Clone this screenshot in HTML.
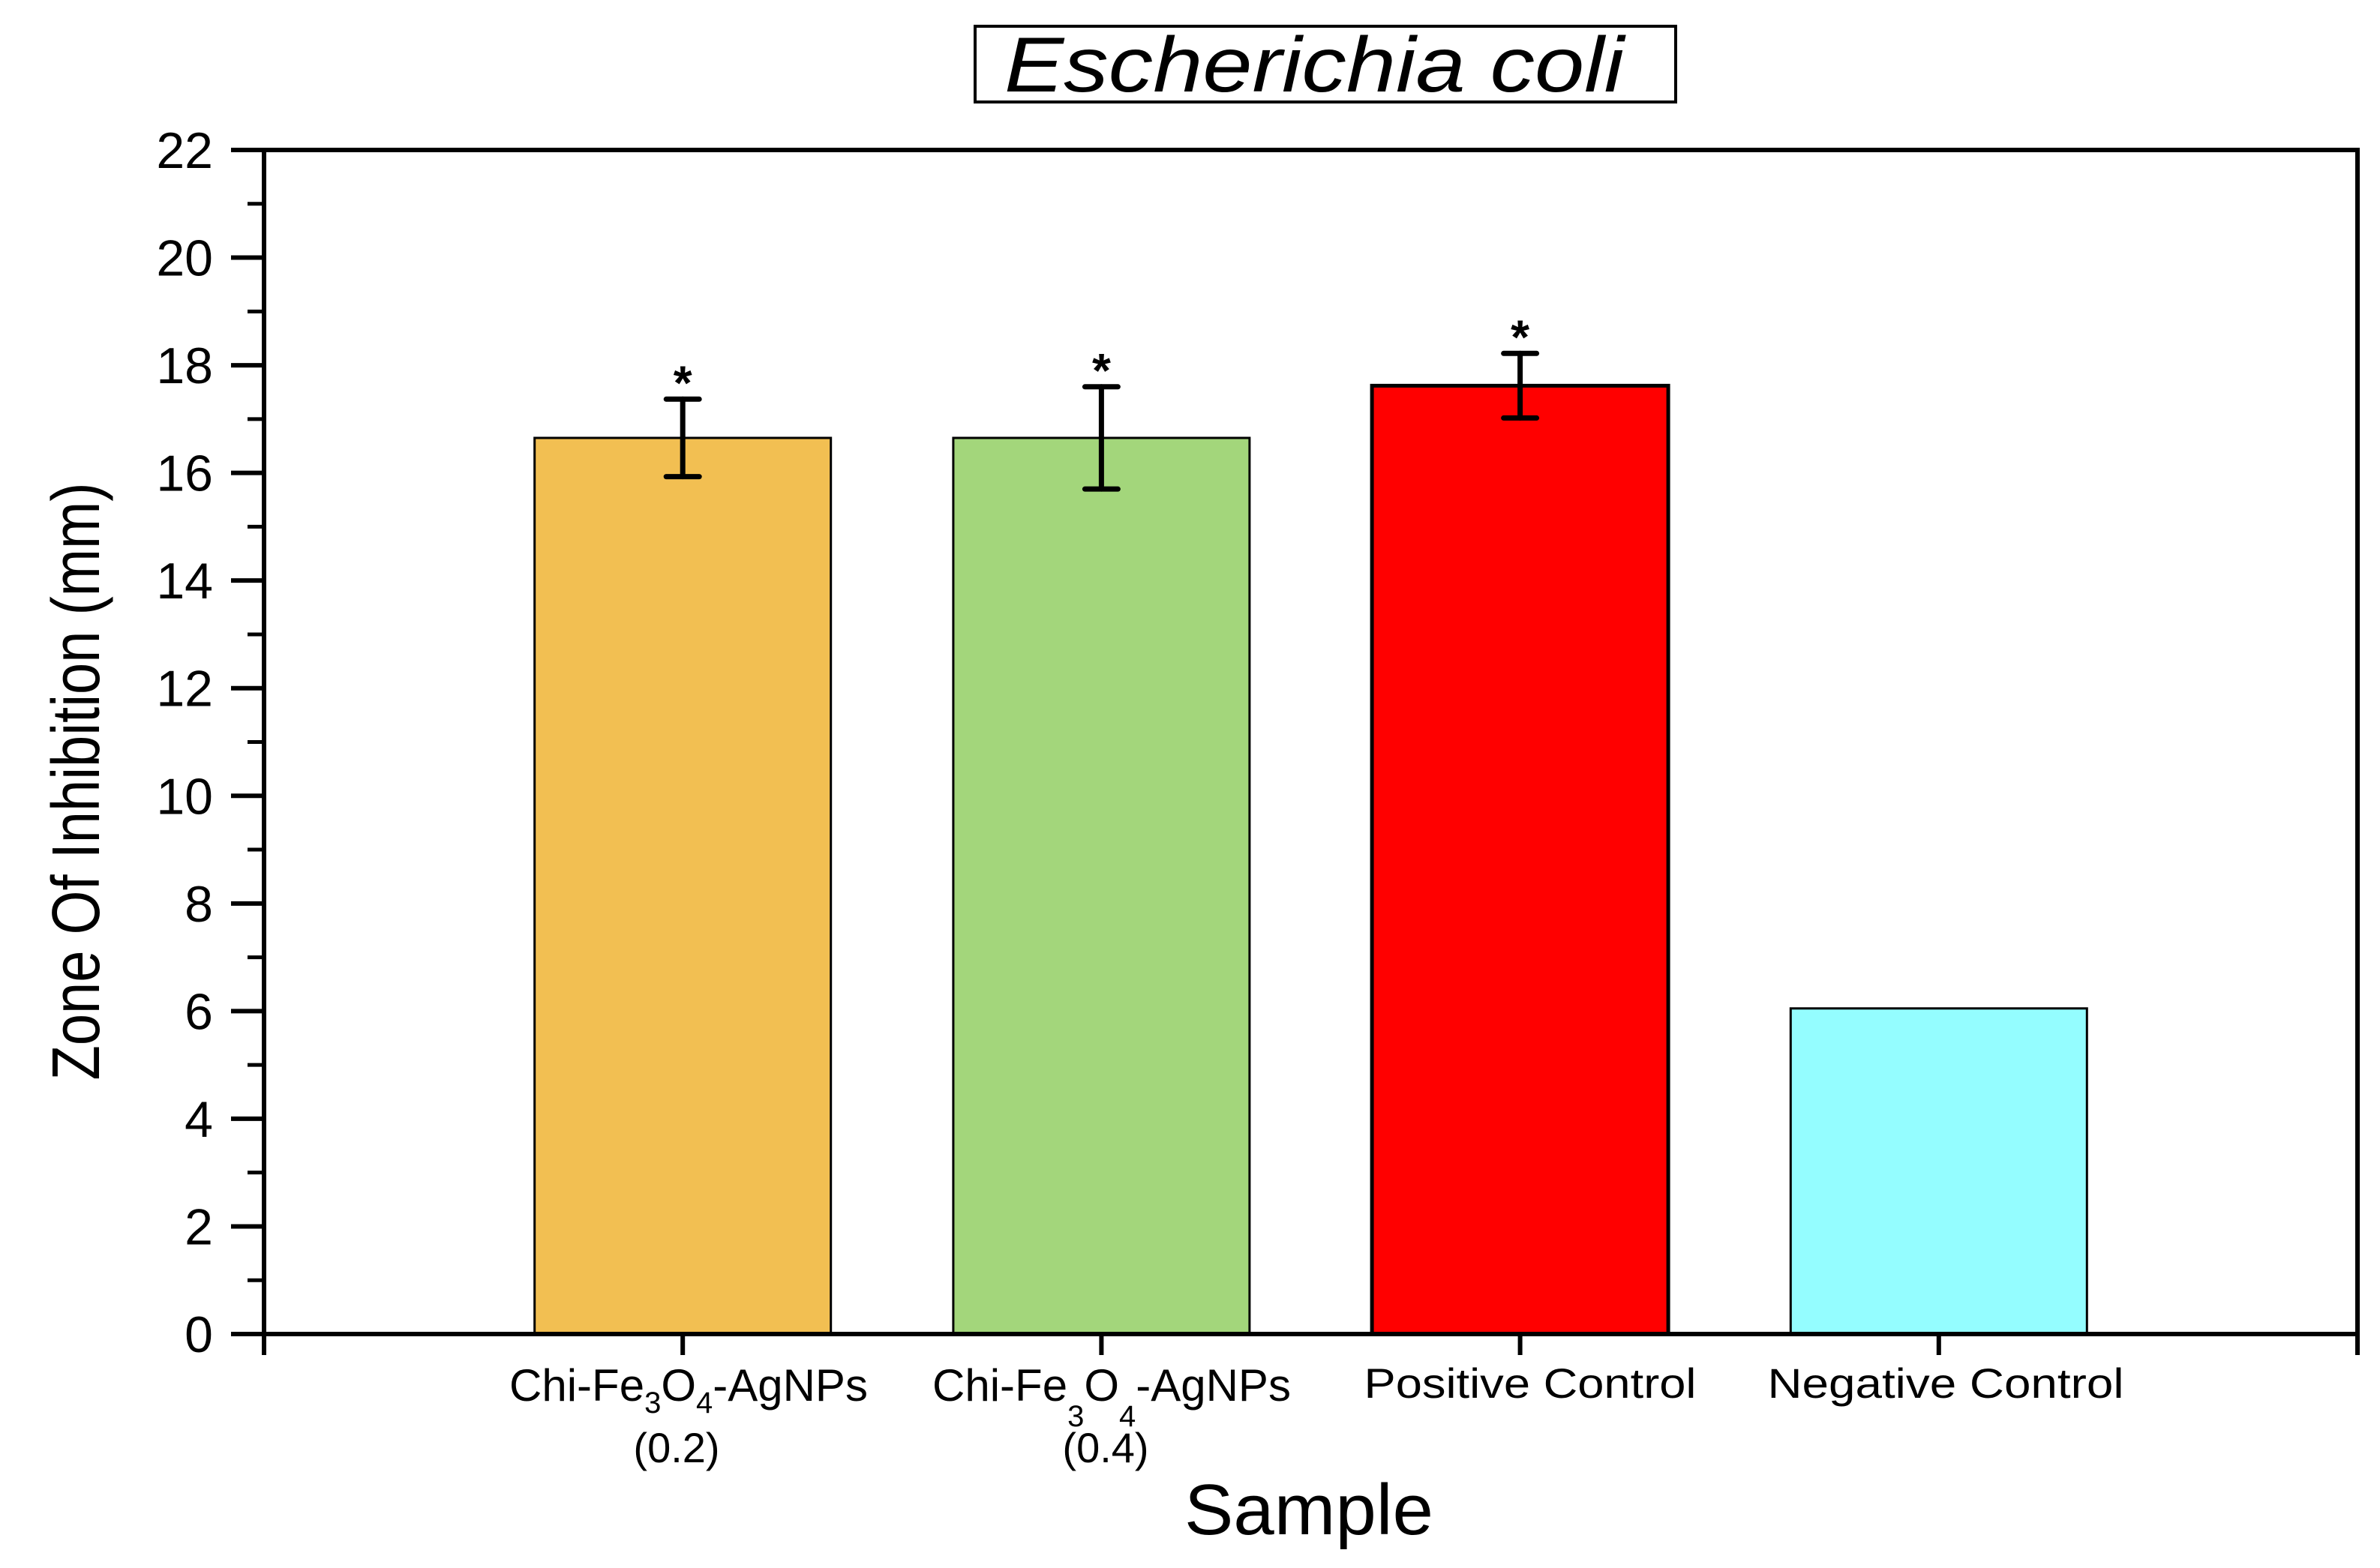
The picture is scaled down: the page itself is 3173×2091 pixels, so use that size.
<!DOCTYPE html>
<html><head><meta charset="utf-8"><style>
html,body{margin:0;padding:0;background:#fff;}
svg{display:block;font-family:"Liberation Sans",Arial,sans-serif;}
</style></head><body>
<svg id="chart" width="3173" height="2091" viewBox="0 0 3173 2091" xmlns="http://www.w3.org/2000/svg">
<rect x="0" y="0" width="3173" height="2091" fill="#fff"/>
<g>
<rect x="1300" y="35" width="934" height="101" fill="#fff" stroke="#000" stroke-width="4"/>
<text x="1752" y="122" font-size="104" font-style="italic" text-anchor="middle" textLength="826" lengthAdjust="spacingAndGlyphs">Escherichia coli</text>
</g>
<g id="bars"></g>
<g id="axes"></g>
<text transform="translate(132,1042) rotate(-90)" font-size="90" text-anchor="middle" textLength="797" lengthAdjust="spacingAndGlyphs">Zone Of Inhibition (mm)</text>
<text x="1745" y="2046" font-size="96" text-anchor="middle" textLength="332" lengthAdjust="spacingAndGlyphs">Sample</text>
<g font-size="56" text-anchor="middle">
<text x="918" y="1868" font-size="60">Chi-Fe<tspan font-size="40" dy="16">3</tspan><tspan dy="-16">O</tspan><tspan font-size="40" dy="16">4</tspan><tspan dy="-16">-AgNPs</tspan></text>
<text x="902" y="1950">(0.2)</text>
<text x="1482" y="1868" font-size="60">Chi-Fe<tspan font-size="40" dy="34">3</tspan><tspan dy="-34">O</tspan><tspan font-size="40" dy="34">4</tspan><tspan dy="-34">-AgNPs</tspan></text>
<text x="1474" y="1950">(0.4)</text>
<text x="2040" y="1864" textLength="443" lengthAdjust="spacingAndGlyphs">Positive Control</text>
<text x="2594" y="1864" textLength="475" lengthAdjust="spacingAndGlyphs">Negative Control</text>
</g>
</svg>
<script>
const categories = ["Chi-Fe3O4-AgNPs (0.2)", "Chi-Fe3O4-AgNPs (0.4)", "Positive Control", "Negative Control"];
const values = [16.65, 16.65, 17.62, 6.05];
const errors = [0.72, 0.95, 0.6, 0];
const colors = ["#f2bf52", "#a3d67b", "#ff0000", "#94fdff"];
const significant = [true, true, true, false];
const yTicks = [0, 2, 4, 6, 8, 10, 12, 14, 16, 18, 20, 22];

const NS = "http://www.w3.org/2000/svg";
const L = 352, R = 3143, T = 200, B = 1779;
const yMin = 0, yMax = 22, xMin = 0, xMax = 5;
function ys(v){ return B - (v - yMin) / (yMax - yMin) * (B - T); }
function xs(i){ return L + (i + 1 - xMin) / (xMax - xMin) * (R - L); }
const barW = 395;
function mk(tag, attrs, parent){
  const e = document.createElementNS(NS, tag);
  for (const k in attrs) e.setAttribute(k, attrs[k]);
  parent.appendChild(e);
  return e;
}
const bars = document.getElementById('bars');
categories.forEach((c, i) => {
  const cx = xs(i), top = ys(values[i]);
  const r = mk('rect', {x: cx - barW/2, y: top, width: barW, height: B - top, fill: colors[i], stroke: '#000', 'stroke-width': i === 2 ? 5 : 3}, bars);
  
  
  if (errors[i] > 0) {
    const hi = ys(values[i] + errors[i]), lo = ys(values[i] - errors[i]);
    const g = mk('g', {stroke: '#000', 'stroke-width': 7, 'stroke-linecap': 'round'}, bars);
    
    
    mk('line', {x1: cx, x2: cx, y1: hi, y2: lo}, g);
    mk('line', {x1: cx - 22, x2: cx + 22, y1: hi, y2: hi}, g);
    mk('line', {x1: cx - 22, x2: cx + 22, y1: lo, y2: lo}, g);
    if (significant[i]) {
      const s = mk('text', {x: cx, y: hi + 26, 'font-size': 64, 'text-anchor': 'middle', 'font-weight': 'bold'}, bars);
      
      
      s.setAttribute('transform', 'translate(0,-26)');
      s.textContent = '*';
    }
  }
});
const ax = document.getElementById('axes');
const frame = mk('path', {d: `M${L} ${B+28} L${L} ${T} L${R} ${T} L${R} ${B+28} M${L-3} ${B} L${R+3} ${B}`, fill: 'none', stroke: '#000', 'stroke-width': 6}, ax);


yTicks.forEach(v => {
  const y = ys(v);
  const t = mk('line', {x1: L - 44, x2: L, y1: y, y2: y, stroke: '#000', 'stroke-width': 6}, ax);
  
  
  const lb = mk('text', {x: 284, y: y + 24, 'font-size': 68, 'text-anchor': 'end'}, ax);
  
  
  lb.textContent = v;
  if (v < yMax) {
    const ym = ys(v + 1);
    const m = mk('line', {x1: L - 22, x2: L, y1: ym, y2: ym, stroke: '#000', 'stroke-width': 5}, ax);
    
    
  }
});
categories.forEach((c, i) => {
  const x = xs(i);
  const t = mk('line', {x1: x, x2: x, y1: B, y2: B + 28, stroke: '#000', 'stroke-width': 6}, ax);
  
  
});
</script>
</body></html>
